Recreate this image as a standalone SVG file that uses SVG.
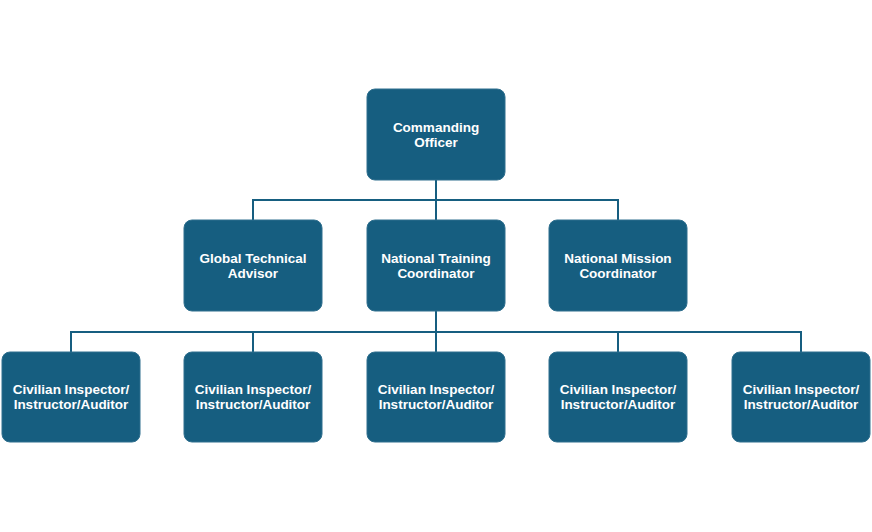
<svg xmlns="http://www.w3.org/2000/svg" width="872" height="532" viewBox="0 0 872 532">
<style>
.box{fill:#165E80;stroke:#2F6F8E;stroke-width:1}
.t{font-family:"Liberation Sans",Arial,sans-serif;font-weight:bold;font-size:13.5px;fill:#FFFFFF;text-anchor:middle}
.c{fill:none;stroke:#165E80;stroke-width:2}
</style>
<rect width="872" height="532" fill="#FFFFFF"/>
<g id="connectors">
<path class="c" d="M436,180 V220 M253,220 V200 H618 V220"/>
<path class="c" d="M436,311 V352 M71,352 V332 H801 V352 M253,332 V352 M618,332 V352"/>
</g>
<g id="n-co"><rect class="box" x="367" y="89" width="138" height="91" rx="8"/><text class="t" x="436" y="131.5">Commanding</text><text class="t" x="436" y="146.5">Officer</text></g>
<g id="n-gta"><rect class="box" x="184" y="220" width="138" height="91" rx="8"/><text class="t" x="253" y="262.5">Global Technical</text><text class="t" x="253" y="277.5">Advisor</text></g>
<g id="n-ntc"><rect class="box" x="367" y="220" width="138" height="91" rx="8"/><text class="t" x="436" y="262.5">National Training</text><text class="t" x="436" y="277.5">Coordinator</text></g>
<g id="n-nmc"><rect class="box" x="549" y="220" width="138" height="91" rx="8"/><text class="t" x="618" y="262.5">National Mission</text><text class="t" x="618" y="277.5">Coordinator</text></g>
<g id="n-ci1"><rect class="box" x="2" y="352" width="138" height="90" rx="8"/><text class="t" x="71" y="393.5">Civilian Inspector/</text><text class="t" x="71" y="408.5">Instructor/Auditor</text></g>
<g id="n-ci2"><rect class="box" x="184" y="352" width="138" height="90" rx="8"/><text class="t" x="253" y="393.5">Civilian Inspector/</text><text class="t" x="253" y="408.5">Instructor/Auditor</text></g>
<g id="n-ci3"><rect class="box" x="367" y="352" width="138" height="90" rx="8"/><text class="t" x="436" y="393.5">Civilian Inspector/</text><text class="t" x="436" y="408.5">Instructor/Auditor</text></g>
<g id="n-ci4"><rect class="box" x="549" y="352" width="138" height="90" rx="8"/><text class="t" x="618" y="393.5">Civilian Inspector/</text><text class="t" x="618" y="408.5">Instructor/Auditor</text></g>
<g id="n-ci5"><rect class="box" x="732" y="352" width="138" height="90" rx="8"/><text class="t" x="801" y="393.5">Civilian Inspector/</text><text class="t" x="801" y="408.5">Instructor/Auditor</text></g>
</svg>
